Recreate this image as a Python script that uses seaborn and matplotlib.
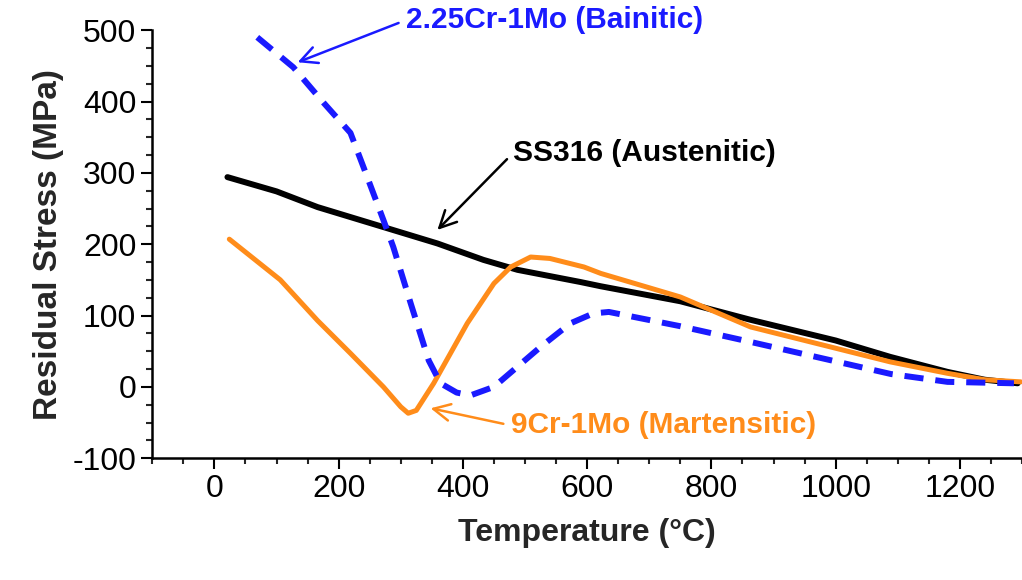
import matplotlib
matplotlib.use('Agg')
import matplotlib.pyplot as plt
import seaborn as sns
from matplotlib.ticker import MultipleLocator

# SS316 (Austenitic) - black solid
ss_temp = [21, 100, 166, 272, 359, 433, 488, 589, 622, 750, 863, 1000, 1088, 1180, 1240, 1293]
ss_stress = [294, 274, 252, 224, 201, 178, 164, 147, 141, 120, 94, 65, 42, 21, 10, 5]

# 9Cr-1Mo (Martensitic) - orange solid
cr9_temp = [24, 106, 166, 219, 272, 300, 312, 325, 353, 407, 450, 477, 509, 540, 595, 622, 750, 863, 1088, 1180, 1240, 1298]
cr9_stress = [207, 150, 93, 47, 0, -28, -37, -33, 5, 89, 145, 168, 182, 180, 168, 159, 126, 84, 35, 19, 10, 7]

# 2.25Cr-1Mo (Bainitic) - blue dashed
cr225_temp = [69, 127, 176, 219, 240, 272, 288, 316, 345, 364, 390, 412, 450, 525, 573, 610, 635, 750, 863, 1089, 1180, 1287]
cr225_stress = [490, 448, 398, 356, 308, 234, 196, 117, 37, 5, -8, -12, 0, 56, 89, 103, 105, 85, 63, 18, 7, 5]

x_ticks = [0, 200, 400, 600, 800, 1000, 1200]
y_ticks = [-100, 0, 100, 200, 300, 400, 500]

sns.set_style('ticks')
plt.rcParams['font.family'] = ['Liberation Sans', 'DejaVu Sans']
plt.rcParams['axes.unicode_minus'] = False

fig = plt.figure(figsize=(10.22, 5.8), dpi=100)
ax = fig.add_axes([0.149, 0.210, 0.851, 0.738])

sns.lineplot(x=ss_temp, y=ss_stress, ax=ax, color='black', linewidth=4.3)
sns.lineplot(x=cr9_temp, y=cr9_stress, ax=ax, color='#ff8c1a', linewidth=3.6)
sns.lineplot(x=cr225_temp, y=cr225_stress, ax=ax, color='#1a1aff', linewidth=4.3)
ax.lines[-1].set_dashes([3.2, 2.0])
for ln in ax.lines:
    ln.set_solid_joinstyle('round')
    ln.set_dash_joinstyle('round')

ax.set_xlim(-100, 1300)
ax.set_ylim(-100, 500)
ax.set_xticks(x_ticks)
ax.set_yticks(y_ticks)
ax.xaxis.set_minor_locator(MultipleLocator(50))
ax.yaxis.set_minor_locator(MultipleLocator(25))
ax.tick_params(which='major', direction='out', length=8, width=1.5, labelsize=23, colors='black')
ax.tick_params(which='minor', direction='out', length=4.5, width=1.5)
for s in ['top', 'right']:
    ax.spines[s].set_visible(False)
for s in ['left', 'bottom']:
    ax.spines[s].set_linewidth(1.8)
    ax.spines[s].set_color('black')

ax.set_xlabel('Temperature (°C)', fontsize=23, fontweight='bold', labelpad=10)
ax.set_ylabel('Residual Stress (MPa)', fontsize=24, fontweight='bold', labelpad=6)

# annotations - arrows start at left-middle of the text
arrow_kw = dict(arrowstyle='->', lw=1.8, mutation_scale=30, shrinkA=3, shrinkB=0,
                relpos=(0, 0.5))
ax.annotate('2.25Cr-1Mo (Bainitic)', xy=(134, 455), xytext=(308, 514),
            color='#1a1aff', fontsize=21.5, fontweight='bold', va='center', ha='left',
            annotation_clip=False,
            arrowprops=dict(color='#1a1aff', **arrow_kw))
ax.annotate('SS316 (Austenitic)', xy=(359, 220), xytext=(481, 328),
            color='black', fontsize=21.5, fontweight='bold', va='center', ha='left',
            arrowprops=dict(color='black', **arrow_kw))
ax.annotate('9Cr-1Mo (Martensitic)', xy=(348, -30), xytext=(477, -54),
            color='#ff8c1a', fontsize=21.5, fontweight='bold', va='center', ha='left',
            arrowprops=dict(color='#ff8c1a', **arrow_kw))

fig.savefig('out.png', dpi=100)
